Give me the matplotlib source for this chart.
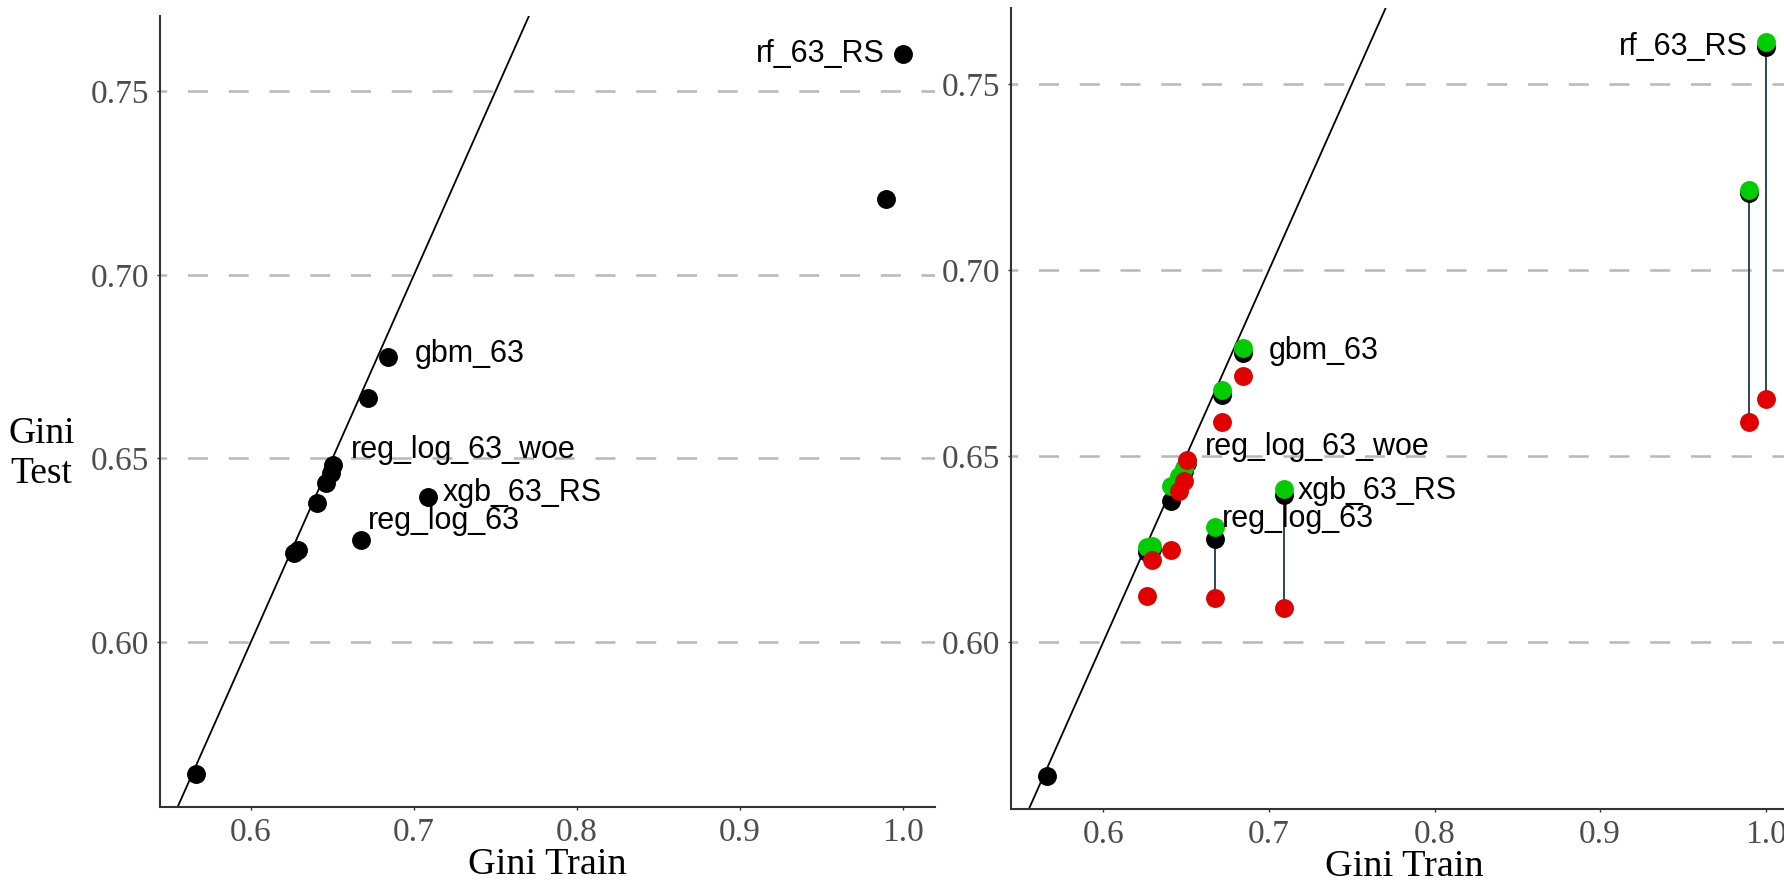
import numpy as np
import matplotlib.pyplot as plt

# model results
labels = ['', '', '', '', '', '', 'reg_log_63_woe', 'reg_log_63', '', 'gbm_63', 'xgb_63_RS', '', 'rf_63_RS']
gini_train = [0.566, 0.6263, 0.6291, 0.6407, 0.6458, 0.6488, 0.6505, 0.6674, 0.6716, 0.6842, 0.7088, 0.9898, 1.0]
gini_test = [0.564, 0.6241, 0.6250, 0.6379, 0.6432, 0.6459, 0.6482, 0.6277, 0.6664, 0.6776, 0.6394, 0.7206, 0.7601]
test_high = [np.nan, 0.6255, 0.6258, 0.6419, 0.6446, 0.6468, 0.6485, 0.6308, 0.6678, 0.6790, 0.6412, 0.7216, 0.7613]
test_low = [np.nan, 0.6123, 0.6221, 0.6246, 0.6405, 0.6432, 0.6488, 0.6119, 0.6592, 0.6716, 0.6090, 0.6590, 0.6653]
show_range = [False, False, False, False, False, False, False, True, False, False, True, True, True]

x_ticks = [0.6, 0.7, 0.8, 0.9, 1.0]
y_ticks = [0.60, 0.65, 0.70, 0.75]

# label offsets in points (dx, dy, ha)
label_pos = {
    'rf_63_RS': (-13, 0, 'right'),
    'gbm_63': (19, 2, 'left'),
    'reg_log_63_woe': (13, 11, 'left'),
    'xgb_63_RS': (10, 3, 'left'),
    'reg_log_63': (5, 14, 'left'),
}

serif = 'Liberation Serif'
sans = 'Liberation Sans'

fig = plt.figure(figsize=(17.84, 8.81), dpi=100)
ax1 = fig.add_axes([0.0897, 0.0840, 0.4344, 0.8978])
ax2 = fig.add_axes([0.5667, 0.0817, 0.4412, 0.9092])


def style(ax, ylab):
    ax.set_xlim(0.5442, 1.0196)
    ax.set_ylim(0.5550, 0.7705)
    for s in ['top', 'right']:
        ax.spines[s].set_visible(False)
    for s in ['left', 'bottom']:
        ax.spines[s].set_color('#333333')
        ax.spines[s].set_linewidth(1.5)
    ax.set_xticks(x_ticks)
    ax.set_xticklabels([f'{v:.1f}' for v in x_ticks])
    ax.set_yticks(y_ticks)
    ax.set_yticklabels([f'{v:.2f}' for v in y_ticks])
    ax.tick_params(length=2.5, width=1, color='#333333', pad=5,
                   labelsize=24, labelcolor='#4D4D4D')
    for t in ax.get_xticklabels() + ax.get_yticklabels():
        t.set_family(serif)
    for y in y_ticks:
        ax.axhline(y, color='#B8B8B8', lw=1.8, ls=(5.3, (8, 8.3)), zorder=0)
    ax.axline((0.5, 0.5), slope=1, color='black', lw=1.3, zorder=1)
    ax.set_xlabel('Gini Train', fontsize=27.5, family=serif, labelpad=0)
    if ylab:
        ax.set_ylabel('Gini\nTest', fontsize=27, family=serif, rotation=0,
                      ha='center', va='center', linespacing=1.2)
        ax.yaxis.set_label_coords(-0.153, 0.447)


def add_labels(ax):
    for name, x, y in zip(labels, gini_train, gini_test):
        if name:
            dx, dy, ha = label_pos[name]
            ax.annotate(name, (x, y), xytext=(dx, dy), textcoords='offset points',
                        ha=ha, va='center', fontsize=22, family=sans, zorder=5)


style(ax1, True)
style(ax2, False)

ax1.scatter(gini_train, gini_test, s=185, color='black', zorder=3, linewidths=0)
add_labels(ax1)

for x, hi, lo, show in zip(gini_train, test_high, test_low, show_range):
    if show:
        ax2.plot([x, x], [lo, hi], color='#2E4560', lw=1.4, zorder=2)
ax2.scatter(gini_train, gini_test, s=185, color='black', zorder=3, linewidths=0)
ax2.scatter(gini_train, test_high, s=185, color='#00CD00', zorder=3, linewidths=0)
ax2.scatter(gini_train, test_low, s=185, color='#E00000', zorder=3, linewidths=0)
add_labels(ax2)

fig.savefig('out.png', dpi=100)
